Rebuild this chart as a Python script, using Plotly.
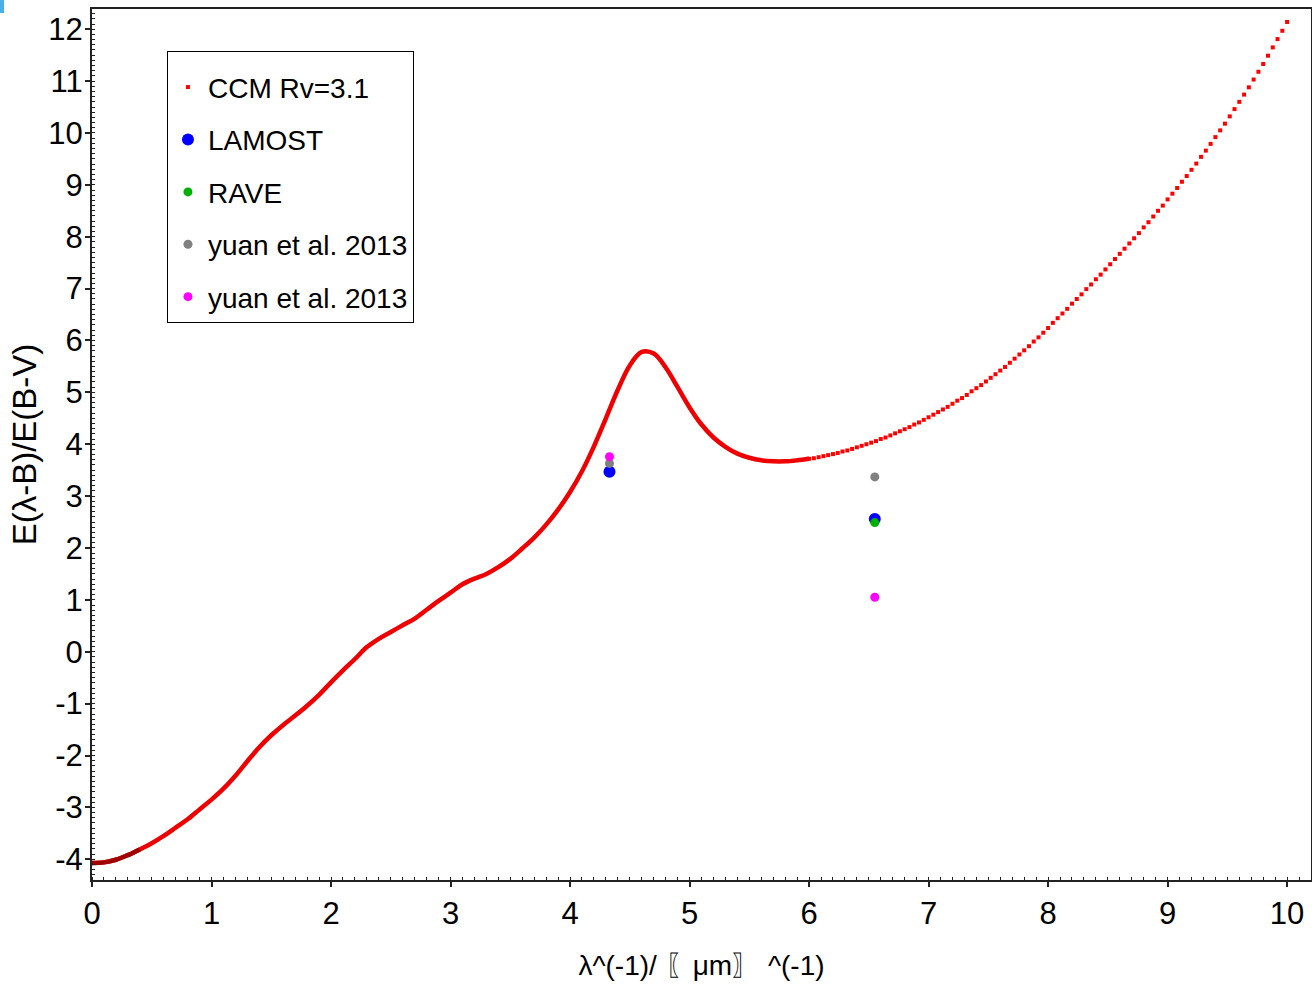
import plotly.graph_objects as go

# CCM extinction curve (Rv = 3.1), E(lambda-B)/E(B-V) versus inverse wavelength
# Dense part of the curve, drawn as a continuous thick line
ccm_x_line = [0.0, 0.1, 0.2, 0.3, 0.4, 0.5, 0.6, 0.7, 0.8, 0.9,
              1.0, 1.1, 1.2, 1.3, 1.4, 1.5, 1.6, 1.7, 1.8, 1.9,
              2.0, 2.1, 2.2, 2.3, 2.4, 2.5, 2.6, 2.7, 2.8, 2.9,
              3.0, 3.1, 3.2, 3.3, 3.4, 3.5, 3.6, 3.7, 3.8, 3.9,
              4.0, 4.1, 4.2, 4.3, 4.4, 4.5, 4.6, 4.7, 4.8, 4.9,
              5.0, 5.1, 5.2, 5.3, 5.4, 5.5, 5.6, 5.7, 5.8, 5.9, 6.0]
ccm_y_line = [-4.07, -4.06, -4.01, -3.92, -3.81, -3.69, -3.55, -3.39, -3.23, -3.04,
              -2.85, -2.64, -2.39, -2.11, -1.84, -1.61, -1.41, -1.23, -1.04, -0.83,
              -0.59, -0.36, -0.14, 0.09, 0.25, 0.38, 0.51, 0.64, 0.81, 0.98,
              1.14, 1.30, 1.41, 1.50, 1.63, 1.79, 1.99, 2.20, 2.45, 2.74,
              3.08, 3.48, 3.96, 4.50, 5.05, 5.52, 5.78, 5.75, 5.48, 5.10,
              4.71, 4.38, 4.13, 3.95, 3.82, 3.74, 3.69, 3.67, 3.67, 3.69, 3.72]

# Sparse far-UV part of the curve, drawn as individual points
ccm_x_pts = [6.00, 6.04, 6.08, 6.12, 6.16, 6.20, 6.24, 6.28, 6.32, 6.36,
             6.40, 6.44, 6.48, 6.52, 6.56, 6.60, 6.64, 6.68, 6.72, 6.76,
             6.80, 6.84, 6.88, 6.92, 6.96, 7.00, 7.04, 7.08, 7.12, 7.16,
             7.20, 7.24, 7.28, 7.32, 7.36, 7.40, 7.44, 7.48, 7.52, 7.56,
             7.60, 7.64, 7.68, 7.72, 7.76, 7.80, 7.84, 7.88, 7.92, 7.96,
             8.00, 8.04, 8.08, 8.12, 8.16, 8.20, 8.24, 8.28, 8.32, 8.36,
             8.40, 8.44, 8.48, 8.52, 8.56, 8.60, 8.64, 8.68, 8.72, 8.76,
             8.80, 8.84, 8.88, 8.92, 8.96, 9.00, 9.04, 9.08, 9.12, 9.16,
             9.20, 9.24, 9.28, 9.32, 9.36, 9.40, 9.44, 9.48, 9.52, 9.56,
             9.60, 9.64, 9.68, 9.72, 9.76, 9.80, 9.84, 9.88, 9.92, 9.96, 10.00]
ccm_y_pts = [3.72, 3.73, 3.75, 3.77, 3.79, 3.81, 3.83, 3.86, 3.88, 3.91,
             3.94, 3.97, 4.00, 4.03, 4.06, 4.10, 4.13, 4.17, 4.21, 4.25,
             4.29, 4.33, 4.38, 4.42, 4.47, 4.52, 4.57, 4.62, 4.67, 4.72,
             4.78, 4.84, 4.89, 4.95, 5.02, 5.08, 5.14, 5.21, 5.28, 5.35,
             5.42, 5.49, 5.57, 5.65, 5.73, 5.81, 5.89, 5.98, 6.06, 6.15,
             6.24, 6.34, 6.43, 6.52, 6.61, 6.71, 6.80, 6.89, 6.99, 7.08,
             7.18, 7.27, 7.37, 7.47, 7.57, 7.67, 7.77, 7.87, 7.97, 8.07,
             8.18, 8.28, 8.39, 8.50, 8.60, 8.72, 8.83, 8.94, 9.06, 9.17,
             9.29, 9.41, 9.54, 9.66, 9.79, 9.92, 10.05, 10.18, 10.32, 10.46,
             10.60, 10.74, 10.88, 11.03, 11.18, 11.33, 11.49, 11.65, 11.81, 11.97, 12.14]

# Survey measurements
lamost_x = [4.33, 6.55]
lamost_y = [3.47, 2.56]
rave_x = [6.55]
rave_y = [2.49]
yuan_gray_x = [4.33, 6.55]
yuan_gray_y = [3.63, 3.37]
yuan_mag_x = [4.33, 6.55]
yuan_mag_y = [3.76, 1.05]

y_ticks = [-4, -3, -2, -1, 0, 1, 2, 3, 4, 5, 6, 7, 8, 9, 10, 11, 12]
y_tick_text = ["-4", "-3", "-2", "-1", "0", "1", "2", "3", "4", "5", "6",
               "7", "8", "9", "10", "11", "12"]
x_ticks = [0, 1, 2, 3, 4, 5, 6, 7, 8, 9, 10]

FONT = "Arial, Liberation Sans, sans-serif"

fig = go.Figure()

fig.add_trace(go.Scatter(
    x=ccm_x_line, y=ccm_y_line, mode="lines",
    line=dict(color="#ee0000", width=4.5, shape="spline"),
    showlegend=False, hoverinfo="skip"))
# darker start of the curve where the points pile up
fig.add_trace(go.Scatter(
    x=ccm_x_line[:5], y=ccm_y_line[:5], mode="lines",
    line=dict(color="#a00000", width=4.5, shape="spline"),
    showlegend=False, hoverinfo="skip"))
fig.add_trace(go.Scatter(
    x=ccm_x_pts, y=ccm_y_pts, mode="markers", name="CCM Rv=3.1",
    marker=dict(symbol="square", size=4, color="#ff0000"),
    legendgroup="a"))
fig.add_trace(go.Scatter(
    x=lamost_x, y=lamost_y, mode="markers", name="LAMOST",
    marker=dict(size=12, color="#0000ff"), legendgroup="b"))
fig.add_trace(go.Scatter(
    x=rave_x, y=rave_y, mode="markers", name="RAVE",
    marker=dict(size=9, color="#00b000"), legendgroup="c"))
fig.add_trace(go.Scatter(
    x=yuan_gray_x, y=yuan_gray_y, mode="markers", name="yuan et al. 2013",
    marker=dict(size=9, color="#808080"), legendgroup="d"))
fig.add_trace(go.Scatter(
    x=yuan_mag_x, y=yuan_mag_y, mode="markers", name="yuan et al. 2013",
    marker=dict(size=9, color="#ff00ff"), legendgroup="e"))

axis_common = dict(
    showgrid=False, zeroline=False,
    showline=True, linecolor="#222222", linewidth=2, mirror=True,
    ticks="outside", ticklen=5, tickwidth=1.5, tickcolor="#222222",
    tickfont=dict(family=FONT, size=31, color="black"),
)

fig.update_xaxes(
    range=[0, 10.2], tickvals=x_ticks,
    minor=dict(dtick=0.1, ticks="inside", ticklen=3, tickwidth=1, tickcolor="#222222"),
    title=dict(text="λ^(-1)/ 〖μm〗 ^(-1)", font=dict(family=FONT, size=28, color="black"),
               standoff=25),
    **axis_common)
fig.update_yaxes(
    range=[-4.4, 12.39], tickvals=y_ticks, ticktext=y_tick_text,
    ticklabelstandoff=-4,
    minor=dict(dtick=0.1, ticks="inside", ticklen=3, tickwidth=1, tickcolor="#222222"),
    title=dict(text="E(λ-B)/E(B-V)", font=dict(family=FONT, size=33, color="black"),
               standoff=2),
    **axis_common)

fig.update_layout(
    width=1312, height=984,
    margin=dict(l=92, r=1, t=9, b=104, autoexpand=False),
    paper_bgcolor="white", plot_bgcolor="white",
    font=dict(family=FONT, color="black"),
    legend=dict(
        x=0.0615, y=0.9518, xanchor="left", yanchor="top",
        bgcolor="white", bordercolor="black", borderwidth=1,
        font=dict(family=FONT, size=28, color="black"),
        title=dict(text=" ", font=dict(size=8)),
        tracegroupgap=13, itemsizing="trace",
    ),
    shapes=[dict(type="rect", xref="paper", yref="paper",
                 x0=-0.0755, x1=-0.0722, y0=0.9954, y1=1.0103,
                 fillcolor="#4aaee8", line=dict(width=0))],
)

fig.write_html("out.html")
